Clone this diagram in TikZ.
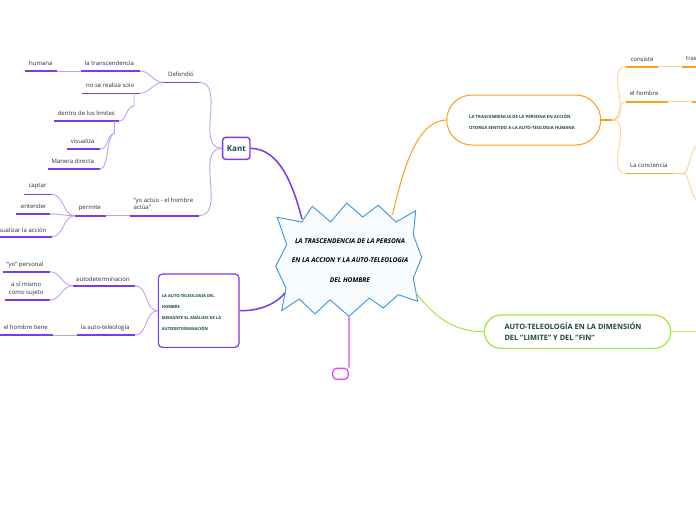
\documentclass[tikz,border=0pt]{standalone}
\usepackage{fontspec}
\setmainfont{Open Sans}
\definecolor{pur}{RGB}{124,58,237}
\definecolor{purL}{RGB}{188,160,250}
\definecolor{org}{RGB}{247,162,27}
\definecolor{orgL}{RGB}{252,210,145}
\definecolor{grn}{RGB}{160,230,60}
\definecolor{mag}{RGB}{226,64,251}
\definecolor{sky}{RGB}{58,150,221}
\definecolor{dk}{RGB}{28,74,56}
\definecolor{tx}{RGB}{45,45,45}
\newcommand{\mkul}[5]{\coordinate (#1-l) at (#2,#4); \coordinate (#1-r) at (#3,#4); \draw[#5] (#1-l) -- (#1-r);}
\tikzset{
  lbl/.style={font=\fontsize{6}{7.7}\selectfont, text=tx, inner sep=0pt, align=center},
  ulP/.style={draw=pur, line width=1.6pt},
  cnP/.style={draw=purL, line width=0.9pt},
  ulO/.style={draw=org, line width=1.6pt},
  cnO/.style={draw=orgL, line width=0.9pt},
  mainP/.style={draw=pur, line width=1.5pt},
  boxtxt/.style={text=dk, inner sep=0pt, align=left, font=\bfseries},
}
\begin{document}
\begin{tikzpicture}[x=1pt,y=-1pt]
\useasboundingbox (0,0) rectangle (696,520);
\clip (0,0) rectangle (696,520);
\fill[white] (0,0) rectangle (696,520);

% ---------- central starburst ----------
\draw[draw=sky, line width=0.9pt, fill=white!97!sky]
 (277.3,217.3) -- (301.7,222) -- (312.3,206.3) -- (330.7,222) -- (346.7,203) -- (362.7,217)
 -- (378.3,205.3) -- (396,222) -- (415.7,210.7) -- (413.3,234.7) -- (421.7,257.3) -- (413.3,278)
 -- (417.7,301.3) -- (398.3,294.7) -- (383.3,308) -- (369.3,298) -- (349,316.3) -- (330,299.7)
 -- (315,314) -- (299.3,299) -- (281.7,310.7) -- (286,288) -- (275.7,266.3) -- (286.7,244.7) -- cycle;
\node[inner sep=0pt, align=center, text=black, font=\fontsize{6.6}{19.2}\selectfont\bfseries\itshape] (center) at (350,260.5)
 {LA TRASCENDENCIA DE LA PERSONA\\EN LA ACCION Y LA AUTO-TELEOLOGIA\\DEL HOMBRE};
\coordinate (c-kant) at (302,219);
\coordinate (c-left) at (285,293);
\coordinate (c-org) at (392.5,215);
\coordinate (c-grn) at (416,293);
\coordinate (c-mag) at (349,316.3);

% ---------- Kant ----------
\node[draw=pur, line width=1.4pt, rounded corners=3pt, minimum width=27.3pt, minimum height=22pt, inner sep=0pt,
      text=dk, font=\fontsize{8}{9}\selectfont\bfseries] (kant) at (236.3,148.3) {Kant};
\draw[mainP] (kant.east) .. controls (280,149) and (293,185) .. (c-kant);

\mkul{def}{163}{199}{82.3}{ulP}
\node[lbl] (t-def) at (181,74.5) {Defendió};
\mkul{yo}{130}{199}{215.7}{ulP}
\node[lbl, align=left, anchor=west] (t-yo) at (133.3,203.8) {"yo actúo - el hombre\\actúa"};
\draw[cnP] (kant.west) to[out=180,in=0] (def-r);
\draw[cnP] (kant.west) to[out=180,in=0] (yo-r);

\mkul{tra}{81}{140}{71}{ulP}
\node[lbl] (t-tra) at (109.5,63.7) {la transcendencia};
\mkul{hum}{25}{57}{71}{ulP}
\node[lbl] (t-hum) at (40.8,63.7) {humana};
\draw[cnP] (hum-r) -- (tra-l);
\mkul{nsr}{82}{140}{93.3}{ulP}
\node[lbl] (t-nsr) at (110.2,85.7) {no se realiza solo};
\draw[cnP] (def-l) to[out=180,in=0] (tra-r);
\draw[cnP] (def-l) to[out=180,in=0] (nsr-r);

\mkul{den}{54.3}{119}{121}{ulP}
\node[lbl] (t-den) at (86.3,113.3) {dentro de los limites};
\coordinate (nsr-j) at (134,93.3);
\coordinate (nsr-k) at (134,106);
\draw[cnP] (nsr-j) -- (nsr-k) .. controls (126,106) and (127,121) .. (den-r);

\mkul{vis}{66.7}{100}{149}{ulP}
\node[lbl] (t-vis) at (82.7,141.7) {visualiza};
\mkul{man}{47.7}{100}{169}{ulP}
\node[lbl] (t-man) at (72.8,161.7) {Manera directa};
\coordinate (den-j) at (114.3,121);
\coordinate (den-k) at (114.3,133);
\draw[cnP] (den-j) -- (den-k) .. controls (106,136) and (109,149) .. (vis-r);
\draw[cnP] (den-k) .. controls (106,136) and (109,169) .. (man-r);

\mkul{per}{75}{106}{215.7}{ulP}
\node[lbl] (t-per) at (89.8,208.3) {permite};
\draw[cnP] (per-r) -- (yo-l);
\mkul{cap}{24}{51.7}{194.3}{ulP}
\node[lbl] (t-cap) at (37.5,186.7) {captar};
\mkul{ent}{16}{50}{214}{ulP}
\node[lbl] (t-ent) at (33.8,206.7) {entender};
\mkul{vac}{-5}{51.7}{236.7}{ulP}
\node[lbl, anchor=east] (t-vac) at (46.7,230) {visualizar la acción};
\draw[cnP] (per-l) to[out=180,in=0] (cap-r);
\draw[cnP] (per-l) to[out=180,in=0] (ent-r);
\draw[cnP] (per-l) to[out=180,in=0] (vac-r);

% ---------- lower left box ----------
\node[draw=pur, line width=1.2pt, rounded corners=4pt, minimum width=80.7pt, minimum height=73.3pt, inner sep=0pt] (lbox) at (198.7,310.7) {};
\node[boxtxt, anchor=west, font=\fontsize{4.1}{11.1}\selectfont\bfseries] (t-lbox) at (161.7,312.7)
 {LA AUTO-TELEOLOGIA DEL\\HOMBRE\\MEDIANTE EL ANÁLISIS DE LA\\AUTODETERMINACIÓN};
\draw[mainP] (c-left) .. controls (275,305) and (258,311) .. (lbox.east);

\mkul{aut}{72.7}{135}{285.7}{ulP}
\node[lbl] (t-aut) at (103,279) {autodeterminación};
\mkul{lat}{76.7}{135}{335}{ulP}
\node[lbl] (t-lat) at (105.2,327.7) {la auto-teleología};
\draw[cnP] (lbox.west) to[out=180,in=0] (aut-r);
\draw[cnP] (lbox.west) to[out=180,in=0] (lat-r);

\mkul{yop}{2.7}{50}{271.7}{ulP}
\node[lbl] (t-yop) at (25,265) {"yo" personal};
\mkul{asm}{5}{50}{300}{ulP}
\node[lbl] (t-asm) at (26.2,288.9) {a sí mismo\\como sujeto};
\draw[cnP] (aut-l) to[out=180,in=0] (yop-r);
\draw[cnP] (aut-l) to[out=180,in=0] (asm-r);
\mkul{eht}{-5}{52.7}{335}{ulP}
\node[lbl] (t-eht) at (25.7,327.7) {el hombre tiene};
\draw[cnP] (eht-r) -- (lat-l);

% ---------- orange ----------
\node[draw=org, line width=1pt, rounded corners=25pt, minimum width=154pt, minimum height=50pt, inner sep=0pt] (obox) at (523.7,120) {};
\node[boxtxt, anchor=west, font=\fontsize{4.3}{11.3}\selectfont\bfseries] (t-obox) at (469,121.7)
 {LA TRASCENDENCIA DE LA PERSONA EN ACCIÓN\\OTORGA SENTIDO A LA AUTO-TEOLOGIA HUMANA};
\draw[draw=org, line width=1pt] (c-org) .. controls (402,175) and (415,121) .. (obox.west);
\coordinate (oj) at (612,120);
\draw[ulO] (obox.east) -- (oj);

\mkul{con}{626}{658.3}{66.7}{ulO}
\node[lbl] (t-con) at (642,59) {consiste};
\mkul{tras}{681.7}{700}{66.7}{ulO}
\node[lbl, anchor=west] (t-tras) at (686,59) {tras};
\draw[cnO] (con-r) -- (tras-l);
\mkul{ehb}{626}{668.3}{101.7}{ulO}
\node[lbl] (t-ehb) at (644.2,93.3) {el hombre};
\mkul{ehx}{691.7}{700}{101.7}{ulO}
\draw[cnO] (ehb-r) -- (ehx-l);
\mkul{lac}{626}{673.3}{173.3}{ulO}
\node[lbl] (t-lac) at (648.7,165.7) {La conciencia};
\coordinate (lac-j) at (683.3,173.3);
\coordinate (lac-u) at (702,140);
\coordinate (lac-d) at (702,205);
\draw[cnO] (lac-r) -- (lac-j);
\draw[cnO] (lac-j) .. controls (690,173.3) and (688,149) .. (lac-u);
\draw[cnO] (lac-j) .. controls (690,173.3) and (688,197) .. (lac-d);
\draw[cnO] (oj) to[out=0,in=180] (con-l);
\draw[cnO] (oj) to[out=0,in=180] (ehb-l);
\draw[cnO] (oj) to[out=0,in=180] (lac-l);

% ---------- green ----------
\node[draw=grn, line width=1.2pt, rounded corners=16.6pt, minimum width=186.4pt, minimum height=33.3pt, inner sep=0pt] (gbox) at (577.5,331.7) {};
\node[boxtxt, anchor=west, font=\fontsize{7.4}{11.3}\selectfont\bfseries] (t-gbox) at (504.3,331.7)
 {AUTO-TELEOLOGÍA EN LA DIMENSIÓN\\DEL "LIMITE" Y DEL "FIN"};
\draw[draw=grn, line width=1pt] (c-grn) .. controls (435,318) and (455,331.7) .. (gbox.west);
\coordinate (g-out) at (700,331.7);
\draw[draw=grn!70!white, line width=1pt] (gbox.east) -- (g-out);

% ---------- magenta ----------
\node[draw=mag, line width=1.2pt, rounded corners=4pt, minimum width=15.6pt, minimum height=11pt, inner sep=0pt] (mbox) at (340.5,373.8) {};
\draw[draw=mag, line width=1.2pt] (c-mag) -- (mbox.north east);
\end{tikzpicture}
\end{document}
